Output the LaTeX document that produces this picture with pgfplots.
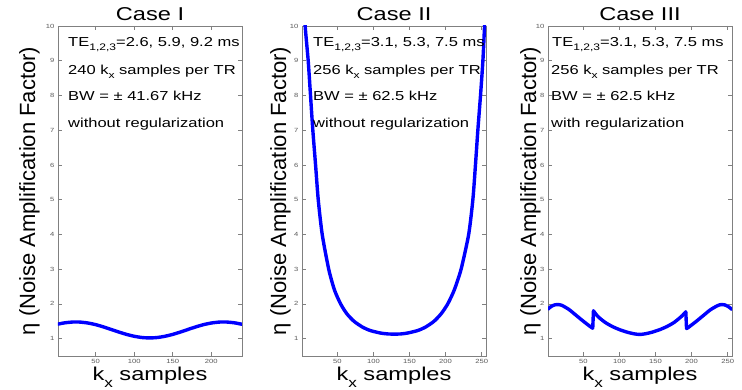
\documentclass[border=0pt]{standalone}
\usepackage{pgfplots}
\pgfplotsset{compat=1.18}
\usepackage{fontspec}
\setmainfont{Liberation Sans}
\newfontfamily\wide[FakeStretch=1.27]{Liberation Sans}
\definecolor{axgray}{gray}{0.5}
\definecolor{curve}{RGB}{0,0,255}
\pgfplotsset{
  panel/.style={
    scale only axis, width=184pt, height=330pt, anchor=south west,
    ymin=0.5, ymax=10, ytick={1,...,10},
    tick align=inside, major tick length=4pt,
    axis line style={axgray, line width=0.8pt},
    tick style={axgray, line width=0.6pt},
    ticklabel style={font=\wide\fontsize{6}{7}\selectfont, text=black!65},
    /pgf/number format/assume math mode=true,
    clip=true,
  },
  curvestyle/.style={curve, line width=3.4pt, line join=round, line cap=round, smooth, tension=0.4},
}
\newcommand{\boxfont}{\wide\fontsize{13}{15}\selectfont}
\newcommand{\sub}[1]{\raisebox{-4pt}{\fontsize{9.5}{10}\selectfont #1}}
\newcommand{\xlab}{\wide\fontsize{18.6}{20}\selectfont k\raisebox{-6.5pt}{\fontsize{13.5}{14}\selectfont x} samples}
\newcommand{\ylab}{\fontsize{22}{24}\selectfont η (Noise Amplification Factor)}
\newcommand{\ttl}{\wide\fontsize{18.6}{20}\selectfont}
\begin{document}
\begin{tikzpicture}
\path[use as bounding box] (0,0) rectangle (742pt,390pt);

% ---------------- Case I ----------------
\begin{axis}[panel, name=ax1, at={(58pt,34pt)}, xmin=1, xmax=240, xtick={50,100,150,200}]
\addplot[curvestyle] coordinates {
(1,1.418) (10,1.456) (20,1.478) (24,1.48) (30,1.476) (40,1.449) (50,1.402)
(60,1.338) (70,1.265) (80,1.190) (90,1.122) (100,1.068) (110,1.032) (120,1.020)
(130,1.032) (140,1.068) (150,1.122) (160,1.190) (170,1.265) (180,1.338)
(190,1.402) (200,1.449) (210,1.476) (216,1.48) (220,1.478) (230,1.456) (240,1.413)
};
\end{axis}

% ---------------- Case II ----------------
\begin{axis}[panel, name=ax2, at={(302pt,34pt)}, xmin=1, xmax=256, xtick={50,100,150,200,250}]
\addplot[curvestyle] coordinates {
(3,11.2) (5,10.1) (9.6,9) (12.8,8) (16,7) (19.8,6) (23.5,5) (29,4) (38,3)
(46,2.4) (54.5,2) (63,1.72) (73,1.5) (85,1.33) (96,1.23) (110,1.16) (120,1.135)
(129,1.13) (138,1.135) (147,1.16) (161,1.23) (172,1.33) (184,1.5) (194,1.72)
(203,2) (212,2.4) (221.5,3) (232,4) (237.8,5) (241.4,6) (244.7,7) (248.4,8)
(251.7,9) (254,10) (256,10.9)
};
\end{axis}

% ---------------- Case III ----------------
\begin{axis}[panel, name=ax3, at={(548pt,34pt)}, xmin=1, xmax=256, xtick={50,100,150,200,250}]
\addplot[curvestyle] coordinates {
(1,1.85) (5,1.92) (10,1.97) (15,1.98) (20,1.96) (30,1.84) (40,1.67) (50,1.50)
(60,1.34) (63,1.30)
};
\addplot[curvestyle] coordinates {
(63,1.30) (64,1.80)
};
\addplot[curvestyle] coordinates {
(64,1.80) (70,1.64) (80,1.47) (90,1.35) (100,1.26) (110,1.19) (120,1.14) (128,1.12)
(136,1.14) (146,1.19) (156,1.26) (166,1.35) (176,1.47) (186,1.64) (192,1.77)
};
\addplot[curvestyle] coordinates {
(192,1.77) (193,1.29)
};
\addplot[curvestyle] coordinates {
(193,1.29) (196,1.33) (206,1.49) (216,1.66) (226,1.83) (236,1.95) (241,1.98)
(246,1.97) (251,1.92) (256,1.84)
};
\end{axis}

% ---------------- titles, labels, annotations ----------------
\node[anchor=base, font=\ttl] at ([yshift=5.3pt]ax1.north) {Case I};
\node[anchor=base, font=\ttl] at ([yshift=5.3pt]ax2.north) {Case II};
\node[anchor=base, font=\ttl] at ([yshift=5.3pt]ax3.north) {Case III};

\node[anchor=base] at ([yshift=-24.7pt]ax1.south) {\xlab};
\node[anchor=base] at ([yshift=-24.7pt]ax2.south) {\xlab};
\node[anchor=base] at ([yshift=-24.7pt]ax3.south) {\xlab};

\node[anchor=base, rotate=90] at ([xshift=-23pt]ax1.west) {\ylab};
\node[anchor=base, rotate=90] at ([xshift=-16pt]ax2.west) {\ylab};
\node[anchor=base, rotate=90] at ([xshift=-12pt]ax3.west) {\ylab};

\begin{scope}[every node/.style={anchor=base west, font=\boxfont, inner sep=0pt}]
\node at ([xshift=10pt,yshift=-21pt]ax1.north west) {TE\sub{1,2,3}=2.6, 5.9, 9.2 ms};
\node at ([xshift=10pt,yshift=-49pt]ax1.north west) {240 k\sub{x} samples per TR};
\node at ([xshift=10pt,yshift=-75pt]ax1.north west) {BW = ± 41.67 kHz};
\node at ([xshift=10pt,yshift=-102pt]ax1.north west) {without regularization};

\node at ([xshift=11pt,yshift=-21pt]ax2.north west) {TE\sub{1,2,3}=3.1, 5.3, 7.5 ms};
\node at ([xshift=11pt,yshift=-49pt]ax2.north west) {256 k\sub{x} samples per TR};
\node at ([xshift=11pt,yshift=-75pt]ax2.north west) {BW = ± 62.5 kHz};
\node at ([xshift=11pt,yshift=-102pt]ax2.north west) {without regularization};

\node at ([xshift=4pt,yshift=-21pt]ax3.north west) {TE\sub{1,2,3}=3.1, 5.3, 7.5 ms};
\node at ([xshift=3pt,yshift=-49pt]ax3.north west) {256 k\sub{x} samples per TR};
\node at ([xshift=3pt,yshift=-75pt]ax3.north west) {BW = ± 62.5 kHz};
\node at ([xshift=3pt,yshift=-102pt]ax3.north west) {with regularization};
\end{scope}
\end{tikzpicture}
\end{document}
